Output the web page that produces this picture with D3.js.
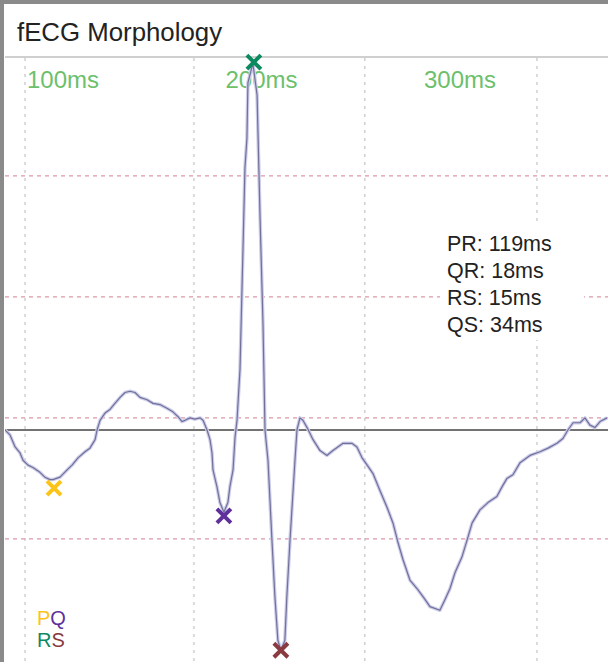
<!DOCTYPE html>
<html>
<head>
<meta charset="utf-8">
<script src="https://cdn.jsdelivr.net/npm/d3@7"></script>
<style>
body { margin: 0; background: #fff; }
svg text { font-family: "Liberation Sans", Arial, sans-serif; }
</style>
</head>
<body>
<div id="plot"></div>
<script>
var w = 608;
var h = 662;

// time in ms, amplitude in grid units (baseline = 0)
var traceTime = [88.9, 91.4, 94, 96.5, 98, 100.5, 103, 106.5, 109, 111.6, 113.1, 116.6, 120.2, 122.7, 125.7,
	129.2, 131.7, 134.3, 135.3, 136.8, 139.3, 141.8, 144.3, 146.9, 149.4, 151.9, 154.4, 156.9, 160.5, 163.5,
	167, 170.5, 173.5, 176.1, 178.1, 179.6, 182.1, 184.6, 187.2, 188.7, 190.7, 192.2, 193.2, 193.7, 195.7,
	197.2, 199.2, 201.2, 202.2, 203.8, 204.8, 205.8, 207.3, 208.8, 209.8, 210.8, 211.3, 213.8, 215.9, 217.4,
	218.9, 219.9, 221.4, 223.4, 224.9, 226.4, 227.9, 229.9, 230.9, 232.5, 235, 236, 237.5, 239, 241.1,
	244.1, 247.6, 251.1, 254.1, 259.2, 263.7, 266.2, 268.8, 271.8, 274.3, 277.8, 281.4, 284.4, 286.9, 289.4,
	292.9, 296.9, 300.5, 303, 308, 310.6, 313.1, 315.6, 319.1, 321.7, 324.2, 328.2, 332.2, 336.7, 339.3,
	341.8, 344.8, 348.4, 353.4, 358.4, 362.5, 367, 370, 372.5, 375.1, 378.6, 381.1, 383.6, 386.1, 388.7, 392.2];
var traceValue = [0, -0.04, -0.14, -0.19, -0.25, -0.29, -0.31, -0.35, -0.39, -0.41, -0.41, -0.39, -0.33, -0.29, -0.23,
	-0.18, -0.15, -0.08, 0, 0.08, 0.14, 0.17, 0.22, 0.27, 0.31, 0.32, 0.31, 0.27, 0.25, 0.22,
	0.21, 0.18, 0.15, 0.11, 0.07, 0.08, 0.1, 0.09, 0.1, 0.08, 0, -0.08, -0.19, -0.33, -0.47,
	-0.6, -0.68, -0.6, -0.47, -0.33, -0.06, 0.08, 0.5, 1.49, 2.17, 2.41, 2.87, 3.03, 2.77, 1.76,
	0.87, 0, -0.25, -0.91, -1.38, -1.74, -1.82, -1.74, -1.38, -0.91, -0.25, 0, 0.1, 0.08, 0.02,
	-0.08, -0.17, -0.21, -0.17, -0.11, -0.11, -0.14, -0.23, -0.3, -0.36, -0.5, -0.64, -0.77, -0.93, -1.07,
	-1.24, -1.32, -1.4, -1.46, -1.49, -1.4, -1.31, -1.18, -1.05, -0.91, -0.77, -0.66, -0.6, -0.55, -0.47,
	-0.4, -0.37, -0.27, -0.21, -0.18, -0.15, -0.11, -0.07, 0, 0.06, 0.06, 0.1, 0.04, 0.02, 0.07, 0.1];

var markerNames = ["P", "Q", "R", "S"];
var markerTime = [113.6, 199.2, 214.3, 227.9];
var markerValue = [-0.48, -0.71, 3.04, -1.82];
var markerColors = ["#fcc419", "#5f2f9c", "#0b8a5e", "#8a3a40"];

var timeLabels = [100, 200, 300];
var timeGrid = [99, 184.1, 270.2, 356.9];
var ampGrid = [2.1, 1.1, 0.1, -0.9];

var intervalNames = ["PR", "QR", "RS", "QS"];
var intervalValues = [119, 18, 15, 34];

var xScale = d3.scaleLinear()
	.domain([100, 300])
	.range([27, 424]);

var yScale = d3.scaleLinear()
	.domain([0, 1])
	.range([430, 309]);

var plotTop = 58;
var plotLeft = 5;

var svg = d3.select("#plot").append("svg").attr("width", w).attr("height", h);

svg.append("rect").attr("width", w).attr("height", h).attr("fill", "#fff");

// frame
svg.append("rect").attr("x", 0).attr("y", 0).attr("width", w).attr("height", 4).attr("fill", "#8a8a8a");
svg.append("rect").attr("x", 0).attr("y", 0).attr("width", 4).attr("height", h).attr("fill", "#8a8a8a");

svg.append("text")
	.attr("x", 17)
	.attr("y", 41)
	.attr("font-size", 25.8)
	.attr("fill", "#222")
	.text("fECG Morphology");

svg.append("line")
	.attr("x1", plotLeft).attr("x2", w)
	.attr("y1", 57).attr("y2", 57)
	.attr("stroke", "#cfcfcf")
	.attr("stroke-width", 2);

svg.append("clipPath").attr("id", "plotclip")
	.append("rect")
	.attr("x", plotLeft).attr("y", plotTop)
	.attr("width", w - plotLeft).attr("height", h - plotTop);

var plot = svg.append("g").attr("clip-path", "url(#plotclip)");

plot.selectAll(".vgrid")
	.data(timeGrid)
	.enter()
	.append("line")
	.attr("class", "vgrid")
	.attr("x1", function(d) { return xScale(d); })
	.attr("x2", function(d) { return xScale(d); })
	.attr("y1", plotTop)
	.attr("y2", h)
	.attr("stroke", "#c4c4c4")
	.attr("stroke-width", 1.2)
	.attr("stroke-dasharray", "3,5");

plot.selectAll(".hgrid")
	.data(ampGrid)
	.enter()
	.append("line")
	.attr("class", "hgrid")
	.attr("x1", plotLeft)
	.attr("x2", w)
	.attr("y1", function(d) { return yScale(d); })
	.attr("y2", function(d) { return yScale(d); })
	.attr("stroke", "#d99aa6")
	.attr("stroke-width", 1.3)
	.attr("stroke-dasharray", "4,4");

plot.append("line")
	.attr("x1", plotLeft)
	.attr("x2", w)
	.attr("y1", yScale(0))
	.attr("y2", yScale(0))
	.attr("stroke", "#444")
	.attr("stroke-width", 1.5);

plot.selectAll(".tlabel")
	.data(timeLabels)
	.enter()
	.append("text")
	.attr("class", "tlabel")
	.attr("x", function(d) { return xScale(d); })
	.attr("y", 88)
	.attr("font-size", 24)
	.attr("fill", "#6cc06c")
	.text(function(d) { return d + "ms"; });

var trace = traceTime.map(function(t, i) {
	return { t: t, v: traceValue[i] };
});

var line = d3.line()
	.x(function(d) { return xScale(d.t); })
	.y(function(d) { return yScale(d.v); });

plot.append("path")
	.datum(trace)
	.attr("d", line)
	.attr("fill", "none")
	.attr("stroke", "#cdcdea")
	.attr("stroke-width", 3.5)
	.attr("stroke-linejoin", "round");

plot.append("path")
	.datum(trace)
	.attr("d", line)
	.attr("fill", "none")
	.attr("stroke", "#70709a")
	.attr("stroke-width", 1.2)
	.attr("stroke-linejoin", "round");

// interval box
var box = svg.append("g");
box.append("rect")
	.attr("x", 440).attr("y", 224)
	.attr("width", 144).attr("height", 116)
	.attr("fill", "#fff");

box.selectAll("text")
	.data(intervalNames)
	.enter()
	.append("text")
	.attr("x", 447)
	.attr("y", function(d, i) { return 251 + i * 27; })
	.attr("font-size", 21.5)
	.attr("fill", "#222")
	.text(function(d, i) { return d + ": " + intervalValues[i] + "ms"; });

// markers
var markers = svg.selectAll(".marker")
	.data(markerNames)
	.enter()
	.append("g")
	.attr("class", "marker")
	.attr("transform", function(d, i) {
		return "translate(" + xScale(markerTime[i]) + "," + yScale(markerValue[i]) + ")";
	});

markers.append("path")
	.attr("d", "M-7,-7L7,7M-7,7L7,-7")
	.attr("stroke", function(d, i) { return markerColors[i]; })
	.attr("stroke-width", 4)
	.attr("fill", "none");

// legend
var legendRows = [["P", "Q"], ["R", "S"]];
legendRows.forEach(function(row, r) {
	var t = svg.append("text")
		.attr("x", 37)
		.attr("y", 625 + r * 22)
		.attr("font-size", 20);
	row.forEach(function(name) {
		t.append("tspan")
			.attr("fill", markerColors[markerNames.indexOf(name)])
			.text(name);
	});
});
</script>
</body>
</html>
